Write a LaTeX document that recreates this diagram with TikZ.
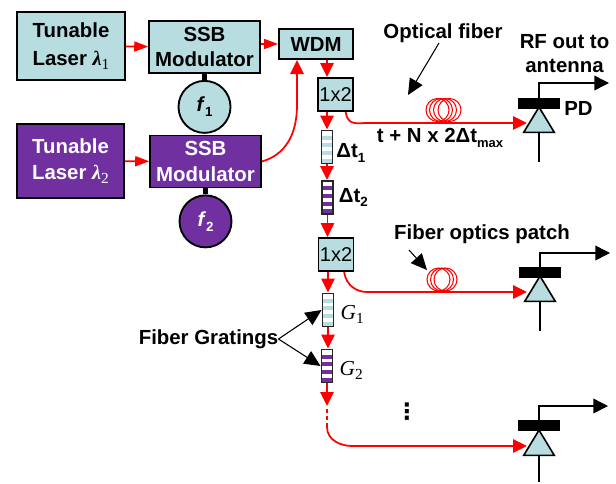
\documentclass[tikz,border=0pt]{standalone}
\usepackage{fontspec}
\setmainfont{Liberation Sans}
\newfontfamily\dotsfont{DejaVu Sans}
\newfontfamily\symbfont{Liberation Serif}
\usetikzlibrary{shapes.geometric,positioning,arrows.meta}
\definecolor{paleteal}{HTML}{B8DDE1}
\definecolor{deeppurple}{HTML}{7030A0}
\newcommand{\lowidx}[1]{\raisebox{-3.5pt}{\fontsize{10}{12}\selectfont #1}}
\newcommand{\symidx}[2]{{\symbfont\itshape #1}\raisebox{-3pt}{\symbfont\mdseries\upshape\fontsize{11.5}{12}\selectfont #2}}
\tikzstyle{boxtext} = [font=\bfseries\fontsize{15.3}{18}\selectfont, align=center, inner sep=0pt]
\tikzstyle{tealbox} = [rectangle, draw=black, line width=1.4pt, fill=paleteal, inner sep=0pt, boxtext]
\tikzstyle{purplebox} = [rectangle, draw=black, line width=1.4pt, fill=deeppurple, text=white, inner sep=0pt, boxtext]
\tikzstyle{splitbox} = [rectangle, draw=black, line width=1.2pt, fill=paleteal, minimum width=26pt, minimum height=25pt, inner sep=0pt, font=\fontsize{15}{18}\selectfont]
\tikzstyle{fiber} = [-{Triangle[length=10.5pt,width=10pt]}, red, line width=1.3pt]
\tikzstyle{shortfiber} = [-{Triangle[length=10.5pt,width=7.5pt]}, red, line width=1.3pt]
\tikzstyle{plainfiber} = [red, line width=1.3pt]
\tikzstyle{coil} = [red, line width=0.8pt]
\tikzstyle{stub} = [line width=3.5pt, black]
\tikzstyle{rfout} = [-{Triangle[length=11pt,width=11pt]}, black, line width=1.1pt]
\tikzstyle{lead} = [black, line width=1.1pt]
\tikzstyle{callout} = [-{Triangle[length=12pt,width=11pt]}, black, line width=0.8pt]
\tikzstyle{pdbar} = [rectangle, fill=black, minimum width=31.5pt, minimum height=8.25pt, inner sep=0pt]
\tikzstyle{pdtri} = [isosceles triangle, isosceles triangle stretches, shape border rotate=90, draw=black, line width=1.2pt, fill=paleteal, minimum width=23pt, minimum height=19pt, inner sep=0pt, anchor=apex]
\tikzset{
  grating/.style={rectangle, draw=black!85, line width=1.2pt, fill=white, minimum width=8.5pt, minimum height=25pt, inner sep=0pt,
    path picture={\foreach \k in {5.5,13,21,28.5}{\fill[#1] (path picture bounding box.north west) ++(0,\k) rectangle ++(20,4);}}}
}
\begin{document}
\begin{tikzpicture}[x=0.75pt, y=-0.75pt]
    \useasboundingbox (0,0) rectangle (616,483);

    % Lasers
    \node[tealbox, minimum width=81pt, minimum height=51pt] (laser1) at (71,46) {Tunable\\[3pt]Laser \symidx{λ}{1}};
    \node[purplebox, minimum width=80pt, minimum height=55.5pt] (laser2) at (70.5,161) {Tunable\\[1.5pt]Laser \symidx{λ}{2}};

    % Modulators
    \node[tealbox, minimum width=83pt, minimum height=39pt] (mod1) at (204.5,47) {SSB\\[1pt]Modulator};
    \node[purplebox, minimum width=83pt, minimum height=39pt] (mod2) at (205.5,161.5) {SSB\\[1pt]Modulator};

    % Sources
    \node[tealbox, circle, minimum size=39pt, below=4.5pt of mod1] (f1) {\textit{f}\lowidx{1}};
    \node[purplebox, circle, minimum size=39pt, below=4.5pt of mod2] (f2) {\textit{f}\lowidx{2}};

    % Splitters and gratings
    \node[tealbox, minimum width=55.5pt, minimum height=22.5pt] (wdm) at (316,44) {WDM};
    \node[splitbox] (split1) at (335.5,94.5) {1x2};
    \node[grating=paleteal] (dt1) at (327,147) {};
    \node[grating=deeppurple] (dt2) at (327.5,197.5) {};
    \node[splitbox] (split2) at (336,254.5) {1x2};
    \node[grating=paleteal] (g1) at (328,310) {};
    \node[grating=deeppurple] (g2) at (327,366) {};

    % Grating labels
    \node[boxtext, right=2pt of dt1, yshift=-4.5pt] (dt1label) {Δt\lowidx{1}};
    \node[boxtext, right=3.5pt of dt2] (dt2label) {Δt\lowidx{2}};
    \node[right=4.5pt of g1, yshift=-3pt, font=\fontsize{16}{18}\selectfont, inner sep=0pt] (g1label) {\symidx{G}{1}};
    \node[right=4.5pt of g2, yshift=-3pt, font=\fontsize{16}{18}\selectfont, inner sep=0pt] (g2label) {\symidx{G}{2}};

    % Photodiodes
    \node[pdtri] (tri1) at (539,105) {};
    \node[pdbar] (bar1) at (539,103.5) {};
    \node[pdtri] (tri2) at (540,274) {};
    \node[pdbar] (bar2) at (540,272.5) {};
    \node[pdtri] (tri3) at (539,428) {};
    \node[pdbar] (bar3) at (539,425.5) {};

    % Fiber coils
    \draw[coil] (437.5,110) circle [radius=11.5];
    \draw[coil] (441,110) circle [radius=11.5];
    \draw[coil] (445,110) circle [radius=11.5];
    \draw[coil] (449.5,110) circle [radius=11.5];
    \draw[coil] (438.5,279.5) circle [radius=11.5];
    \draw[coil] (442,279.5) circle [radius=11.5];
    \draw[coil] (445.5,279.5) circle [radius=11.5];

    % Free ends
    \coordinate (in1) at (527,123);
    \coordinate (in2) at (527,292);
    \coordinate (in3) at (527,446);
    \coordinate (bend1) at (367,123);
    \coordinate (bend2) at (367,292);
    \coordinate (bend3) at (352,446);
    \coordinate (out1) at (609,83);
    \coordinate (out2) at (610,253);
    \coordinate (out3) at (608,406);
    \coordinate (foot1) at (539,162);
    \coordinate (foot2) at (540,331);
    \coordinate (foot3) at (539,482);
    \coordinate (wdmin) at (297,60);
    \coordinate (dotstart) at (327,406);
    \coordinate (dotend) at (327,427);

    % Texts
    \node[boxtext] (fiberlabel) at (443,33) {Optical fiber};
    \node[boxtext] (rflabel) at (564.5,54) {RF out to\\antenna};
    \node[boxtext] (pdlabel) at (578.5,108) {PD};
    \node[boxtext] (delay) at (440,138) {t + N x 2Δt\lowidx{\fontsize{9.75}{12}\selectfont max}};
    \node[boxtext] (patchlabel) at (482,234) {Fiber optics patch};
    \node[boxtext] (gratinglabel) at (208.5,339) {Fiber Gratings};
    \node[font=\dotsfont\bfseries\fontsize{17}{18}\selectfont, inner sep=0pt] (dots) at (407,412) {⋮};
    \coordinate (fiberhead) at (408,95);
    \coordinate (fibertail) at (439,43);
    \coordinate (patchhead) at (427,270);
    \coordinate (patchtail) at (409,250);

    % Arrows
    \draw[shortfiber] (laser1) -- (mod1);
    \draw[shortfiber] (laser2) -- (mod2);
    \draw[shortfiber] (mod1.east |- wdm) -- (wdm.west);
    \draw[fiber] (mod2.east) .. controls (285,155) and (297,135) .. (297,105) -- (wdmin);
    \draw[fiber] (dt1.north |- wdm.south) -- (dt1.north |- split1.north);
    \draw[fiber] (dt1.north |- split1.south) -- (dt1.north);
    \draw[fiber] (dt1.south) -- (dt1.south |- dt2.north);
    \draw[fiber] (dt2.south) -- (dt2.south |- split2.north);
    \draw[fiber] (g1.north |- split2.south) -- (g1.north);
    \draw[fiber] (g1.south) -- (g1.south |- g2.north);
    \draw[fiber] (g2.south) -- (dotstart);
    \draw[plainfiber, dash pattern=on 3pt off 2.5pt] ([yshift=-2pt]dotstart) -- (dotend);
    \draw[fiber] ([xshift=-6pt]split1.south east) .. controls +(2,14) and +(-10,0) .. (bend1) -- (in1);
    \draw[fiber] ([xshift=-7.5pt]split2.south east) .. controls +(2,14) and +(-10,0) .. (bend2) -- (in2);
    \draw[fiber] (dotend) .. controls +(0,14) and +(-10,0) .. (bend3) -- (in3);
    \draw[stub] (mod1) -- (f1);
    \draw[stub] (mod2) -- (f2);
    \draw[rfout] (bar1.north) |- (out1);
    \draw[rfout] (bar2.north) |- (out2);
    \draw[rfout] (bar3.north) |- (out3);
    \draw[lead] (tri1.lower side) -- (foot1);
    \draw[lead] (tri2.lower side) -- (foot2);
    \draw[lead] (tri3.lower side) -- (foot3);
    \draw[callout] (fibertail) -- (fiberhead);
    \draw[callout] (patchtail) -- (patchhead);
    \draw[callout] (gratinglabel.east) -- (g1.west);
    \draw[callout] (gratinglabel.east) -- (g2.west);
\end{tikzpicture}
\end{document}
